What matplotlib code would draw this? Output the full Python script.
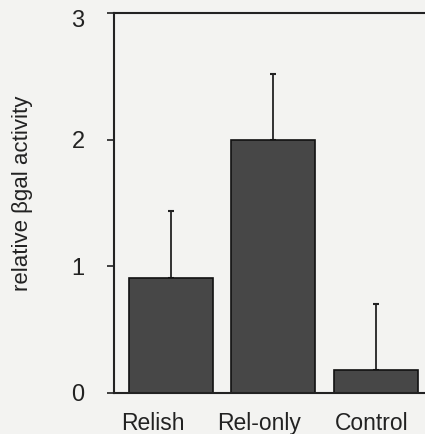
import matplotlib
matplotlib.use("Agg")
import matplotlib.pyplot as plt
import matplotlib.transforms as mtransforms

categories = ["Relish", "Rel-only", "Control"]
values = [0.91, 2.00, 0.18]
errors = [0.53, 0.52, 0.52]
yticks = [0, 1, 2, 3]

plt.rcParams['font.family'] = ['Liberation Sans', 'DejaVu Sans']

fig = plt.figure(figsize=(4.25, 4.34), dpi=100)
bg = "#f3f3f1"
fig.patch.set_facecolor(bg)
ax = fig.add_axes([0.2675, 0.0945, 0.7425, 0.8749])
ax.set_facecolor(bg)

x = [0, 1, 2]
ax.bar(x, values, width=0.82, color="#474747", edgecolor="#111111", linewidth=1.2, zorder=2)
ax.errorbar(x, values, yerr=[[0, 0, 0], errors], fmt="none", ecolor="#222222",
            elinewidth=1.3, capsize=2.5, capthick=1.5, zorder=1)

ax.set_xlim(-0.559, 2.52)
ax.set_ylim(0, 3)
ax.set_yticks(yticks)
ax.set_yticklabels([str(t) for t in yticks], fontsize=17)
ax.tick_params(axis='y', direction='out', length=5, width=1.2, pad=16, colors="#222222")
ax.set_xticks([-0.176, 0.857, 1.958])
ax.set_xticklabels(categories, fontsize=16.5)
ax.tick_params(axis='x', length=0, pad=14, colors="#222222")

# top label sits slightly lower in the reference
top_lab = ax.get_yticklabels()[-1]
top_lab.set_transform(top_lab.get_transform() +
                      mtransforms.ScaledTranslation(0, -5 / 100, fig.dpi_scale_trans))

for s in ["left", "top", "bottom"]:
    ax.spines[s].set_linewidth(1.5)
    ax.spines[s].set_color("#222222")
ax.spines["right"].set_visible(False)

ax.set_ylabel("relative βgal activity", fontsize=16, color="#222222")
ax.yaxis.set_label_coords(-0.256, 0.525)

fig.savefig("out.png", dpi=100, facecolor=bg)
